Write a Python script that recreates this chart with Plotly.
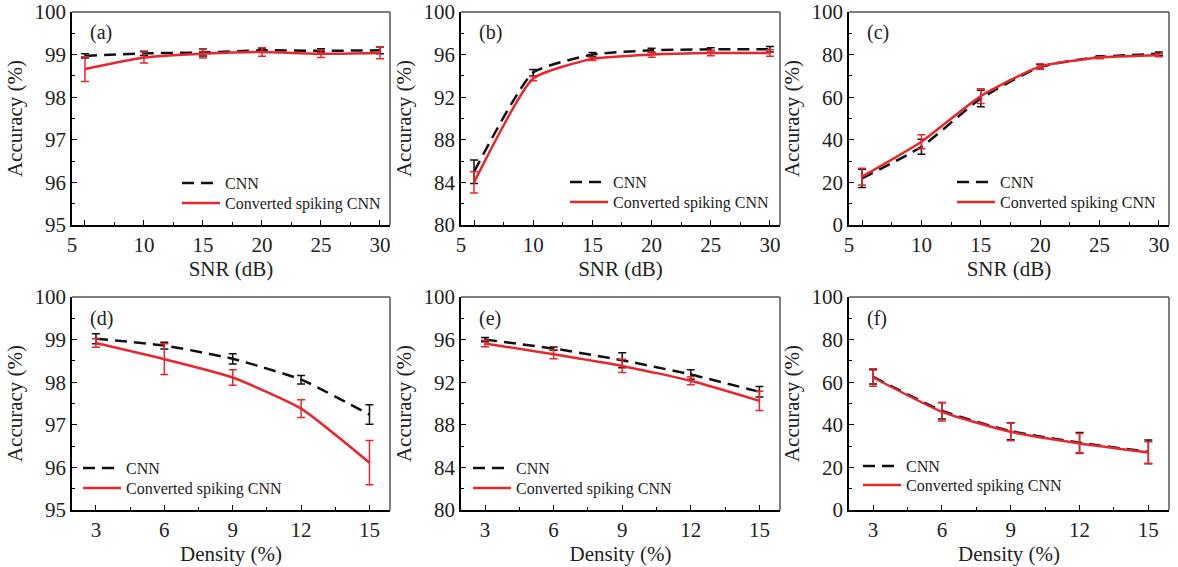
import plotly.graph_objects as go

W, H = 1178, 567

# ---------------- data ----------------
snr = [5, 10, 15, 20, 25, 30]
density = [3, 6, 9, 12, 15]
snr_ticktext = ["5", "", "10", "15", "20", "25", "30"]

a_cnn = [98.97, 99.03, 99.05, 99.10, 99.09, 99.10]
a_cnn_err = [0.05, 0.05, 0.08, 0.04, 0.05, 0.08]
a_scnn = [98.66, 98.93, 99.02, 99.06, 99.02, 99.04]
a_scnn_err = [0.29, 0.13, 0.10, 0.10, 0.09, 0.14]

b_cnn = [85.0, 94.3, 96.0, 96.4, 96.5, 96.5]
b_cnn_err = [1.1, 0.3, 0.2, 0.2, 0.15, 0.25]
b_scnn = [84.0, 93.75, 95.6, 96.0, 96.15, 96.15]
b_scnn_err = [1.0, 0.2, 0.15, 0.25, 0.25, 0.3]

c_cnn = [21.9, 36.7, 59.4, 74.2, 78.9, 80.4]
c_cnn_err = [4.3, 3.5, 3.9, 1.0, 0.6, 0.8]
c_scnn = [22.7, 39.1, 60.5, 74.5, 78.6, 79.7]
c_scnn_err = [3.9, 3.3, 3.5, 1.2, 0.5, 0.7]

d_cnn = [99.02, 98.86, 98.55, 98.06, 97.24]
d_cnn_err = [0.12, 0.08, 0.12, 0.10, 0.23]
d_scnn = [98.92, 98.54, 98.11, 97.38, 96.11]
d_scnn_err = [0.10, 0.36, 0.18, 0.21, 0.52]

e_cnn = [96.0, 95.16, 94.06, 92.72, 91.1]
e_cnn_err = [0.2, 0.15, 0.7, 0.45, 0.5]
e_scnn = [95.63, 94.63, 93.53, 92.13, 90.25]
e_scnn_err = [0.3, 0.42, 0.63, 0.38, 0.9]

f_cnn = [62.5, 46.6, 37.0, 31.6, 27.3]
f_cnn_err = [3.3, 3.9, 4.0, 4.8, 5.6]
f_scnn = [62.2, 46.1, 36.7, 31.25, 27.0]
f_scnn_err = [4.1, 4.3, 4.2, 4.7, 5.1]

names = ["CNN", "Converted spiking CNN"]
panel_labels = ["(a)", "(b)", "(c)", "(d)", "(e)", "(f)"]

# ---------------- layout geometry (px) ----------------
cols = [(72, 390), (461, 780), (849, 1169)]
rows = [(12, 225), (297, 510)]
legend_px = [  # (left x, row1 y, row2 y)
    (182, 183, 203), (570, 182, 202), (957, 182, 202),
    (83, 468, 488), (473, 468, 488), (863, 466, 485),
]

RED = "#e8262d"
BLACK = "#111111"
FONT = "Liberation Serif, Times New Roman, DejaVu Serif, serif"
TXT = "#222222"

panels = [
    (snr, a_cnn, a_cnn_err, a_scnn, a_scnn_err, [95, 100], 1, 0.5),
    (snr, b_cnn, b_cnn_err, b_scnn, b_scnn_err, [80, 100], 4, 2),
    (snr, c_cnn, c_cnn_err, c_scnn, c_scnn_err, [0, 100], 20, 10),
    (density, d_cnn, d_cnn_err, d_scnn, d_scnn_err, [95, 100], 1, 0.5),
    (density, e_cnn, e_cnn_err, e_scnn, e_scnn_err, [80, 100], 4, 2),
    (density, f_cnn, f_cnn_err, f_scnn, f_scnn_err, [0, 100], 20, 10),
]

fig = go.Figure()
layout = dict(
    width=W, height=H, margin=dict(l=0, r=0, t=0, b=0, autoexpand=False),
    paper_bgcolor="white", plot_bgcolor="white",
    font=dict(family=FONT, color=TXT, size=20),
    showlegend=True,
)
shapes = []
annotations = []

for i, (xs, cnn, cnn_e, sc, sc_e, yr, dt, mdt) in enumerate(panels):
    r, c = divmod(i, 3)
    k = i + 1
    xa = "x" if k == 1 else f"x{k}"
    ya = "y" if k == 1 else f"y{k}"
    x0, x1 = cols[c]
    y0, y1 = rows[r]
    lg1 = "legend" if i == 0 else f"legend{2 * i + 1}"
    lg2 = f"legend{2 * i + 2}"

    fig.add_trace(go.Scatter(
        x=xs, y=cnn, mode="lines", name=names[0], xaxis=xa, yaxis=ya,
        line=dict(color=BLACK, width=2.5, dash="12px,7px", shape="spline", smoothing=0.5),
        error_y=dict(type="data", array=cnn_e, color=BLACK, thickness=1.5, width=4),
        legend=lg1,
    ))
    fig.add_trace(go.Scatter(
        x=xs, y=sc, mode="lines", name=names[1], xaxis=xa, yaxis=ya,
        line=dict(color=RED, width=2.5, shape="spline", smoothing=0.5),
        error_y=dict(type="data", array=sc_e, color=RED, thickness=1.5, width=4),
        legend=lg2,
    ))

    if r == 0:
        xrange = [3.9, 30.85]
        xaxis = dict(tickmode="array", tickvals=[3.9] + snr, ticktext=snr_ticktext,
                     minor=dict(tick0=5, dtick=2.5, ticklen=3, ticks="inside",
                                tickcolor="black", tickwidth=1.2),
                     title=dict(text="SNR (dB)", font=dict(family=FONT, size=21), standoff=4))
    else:
        xrange = [1.95, 15.9]
        xaxis = dict(tickmode="array", tickvals=density,
                     ticktext=[str(v) for v in density],
                     minor=dict(tick0=3, dtick=1.5, ticklen=3, ticks="inside",
                                tickcolor="black", tickwidth=1.2),
                     title=dict(text="Density (%)", font=dict(family=FONT, size=21), standoff=4))
    xaxis.update(
        domain=[x0 / W, x1 / W], range=xrange, anchor=ya, automargin=False,
        showline=True, linecolor="black", linewidth=1.5, mirror=False,
        ticks="inside", ticklen=5, tickwidth=1.2, tickcolor="black",
        showgrid=False, zeroline=False, tickfont=dict(family=FONT, size=21),
    )
    yaxis = dict(
        domain=[1 - y1 / H, 1 - y0 / H], range=yr, anchor=xa, automargin=False,
        tickmode="linear", tick0=yr[0], dtick=dt,
        minor=dict(dtick=mdt, ticklen=3, ticks="inside", tickcolor="black", tickwidth=1.2),
        showline=True, linecolor="black", linewidth=1.5, mirror=False,
        ticks="inside", ticklen=5, tickwidth=1.2, tickcolor="black",
        showgrid=False, zeroline=False, tickfont=dict(family=FONT, size=21),
        title=dict(text="Accuracy (%)", font=dict(family=FONT, size=21), standoff=6),
    )
    layout["xaxis" if k == 1 else f"xaxis{k}"] = xaxis
    layout["yaxis" if k == 1 else f"yaxis{k}"] = yaxis

    # top & right frame
    shapes.append(dict(type="line", xref=f"{xa} domain", yref=f"{ya} domain",
                       x0=0, x1=1, y0=1, y1=1, line=dict(color="#555555", width=1.5)))
    shapes.append(dict(type="line", xref=f"{xa} domain", yref=f"{ya} domain",
                       x0=1, x1=1, y0=0, y1=1, line=dict(color="#555555", width=1.5)))

    # panel label
    annotations.append(dict(text=panel_labels[i], xref="paper", yref="paper",
                            x=(x0 + 16) / W, y=1 - (y0 + 21) / H, xanchor="left",
                            yanchor="middle", showarrow=False,
                            font=dict(family=FONT, size=20, color=TXT)))

    # legends
    lx, ly1, ly2 = legend_px[i]
    for lg, ly in ((lg1, ly1), (lg2, ly2)):
        layout[lg] = dict(x=(lx - 5) / W, y=1 - ly / H, xanchor="left", yanchor="middle",
                          bgcolor="rgba(0,0,0,0)", borderwidth=0, itemwidth=38,
                          font=dict(family=FONT, size=16, color=TXT))

layout["shapes"] = shapes
layout["annotations"] = annotations
fig.update_layout(**layout)
fig.write_html("out.html", config={"displayModeBar": False},
               post_script="document.body.style.margin='0';")
